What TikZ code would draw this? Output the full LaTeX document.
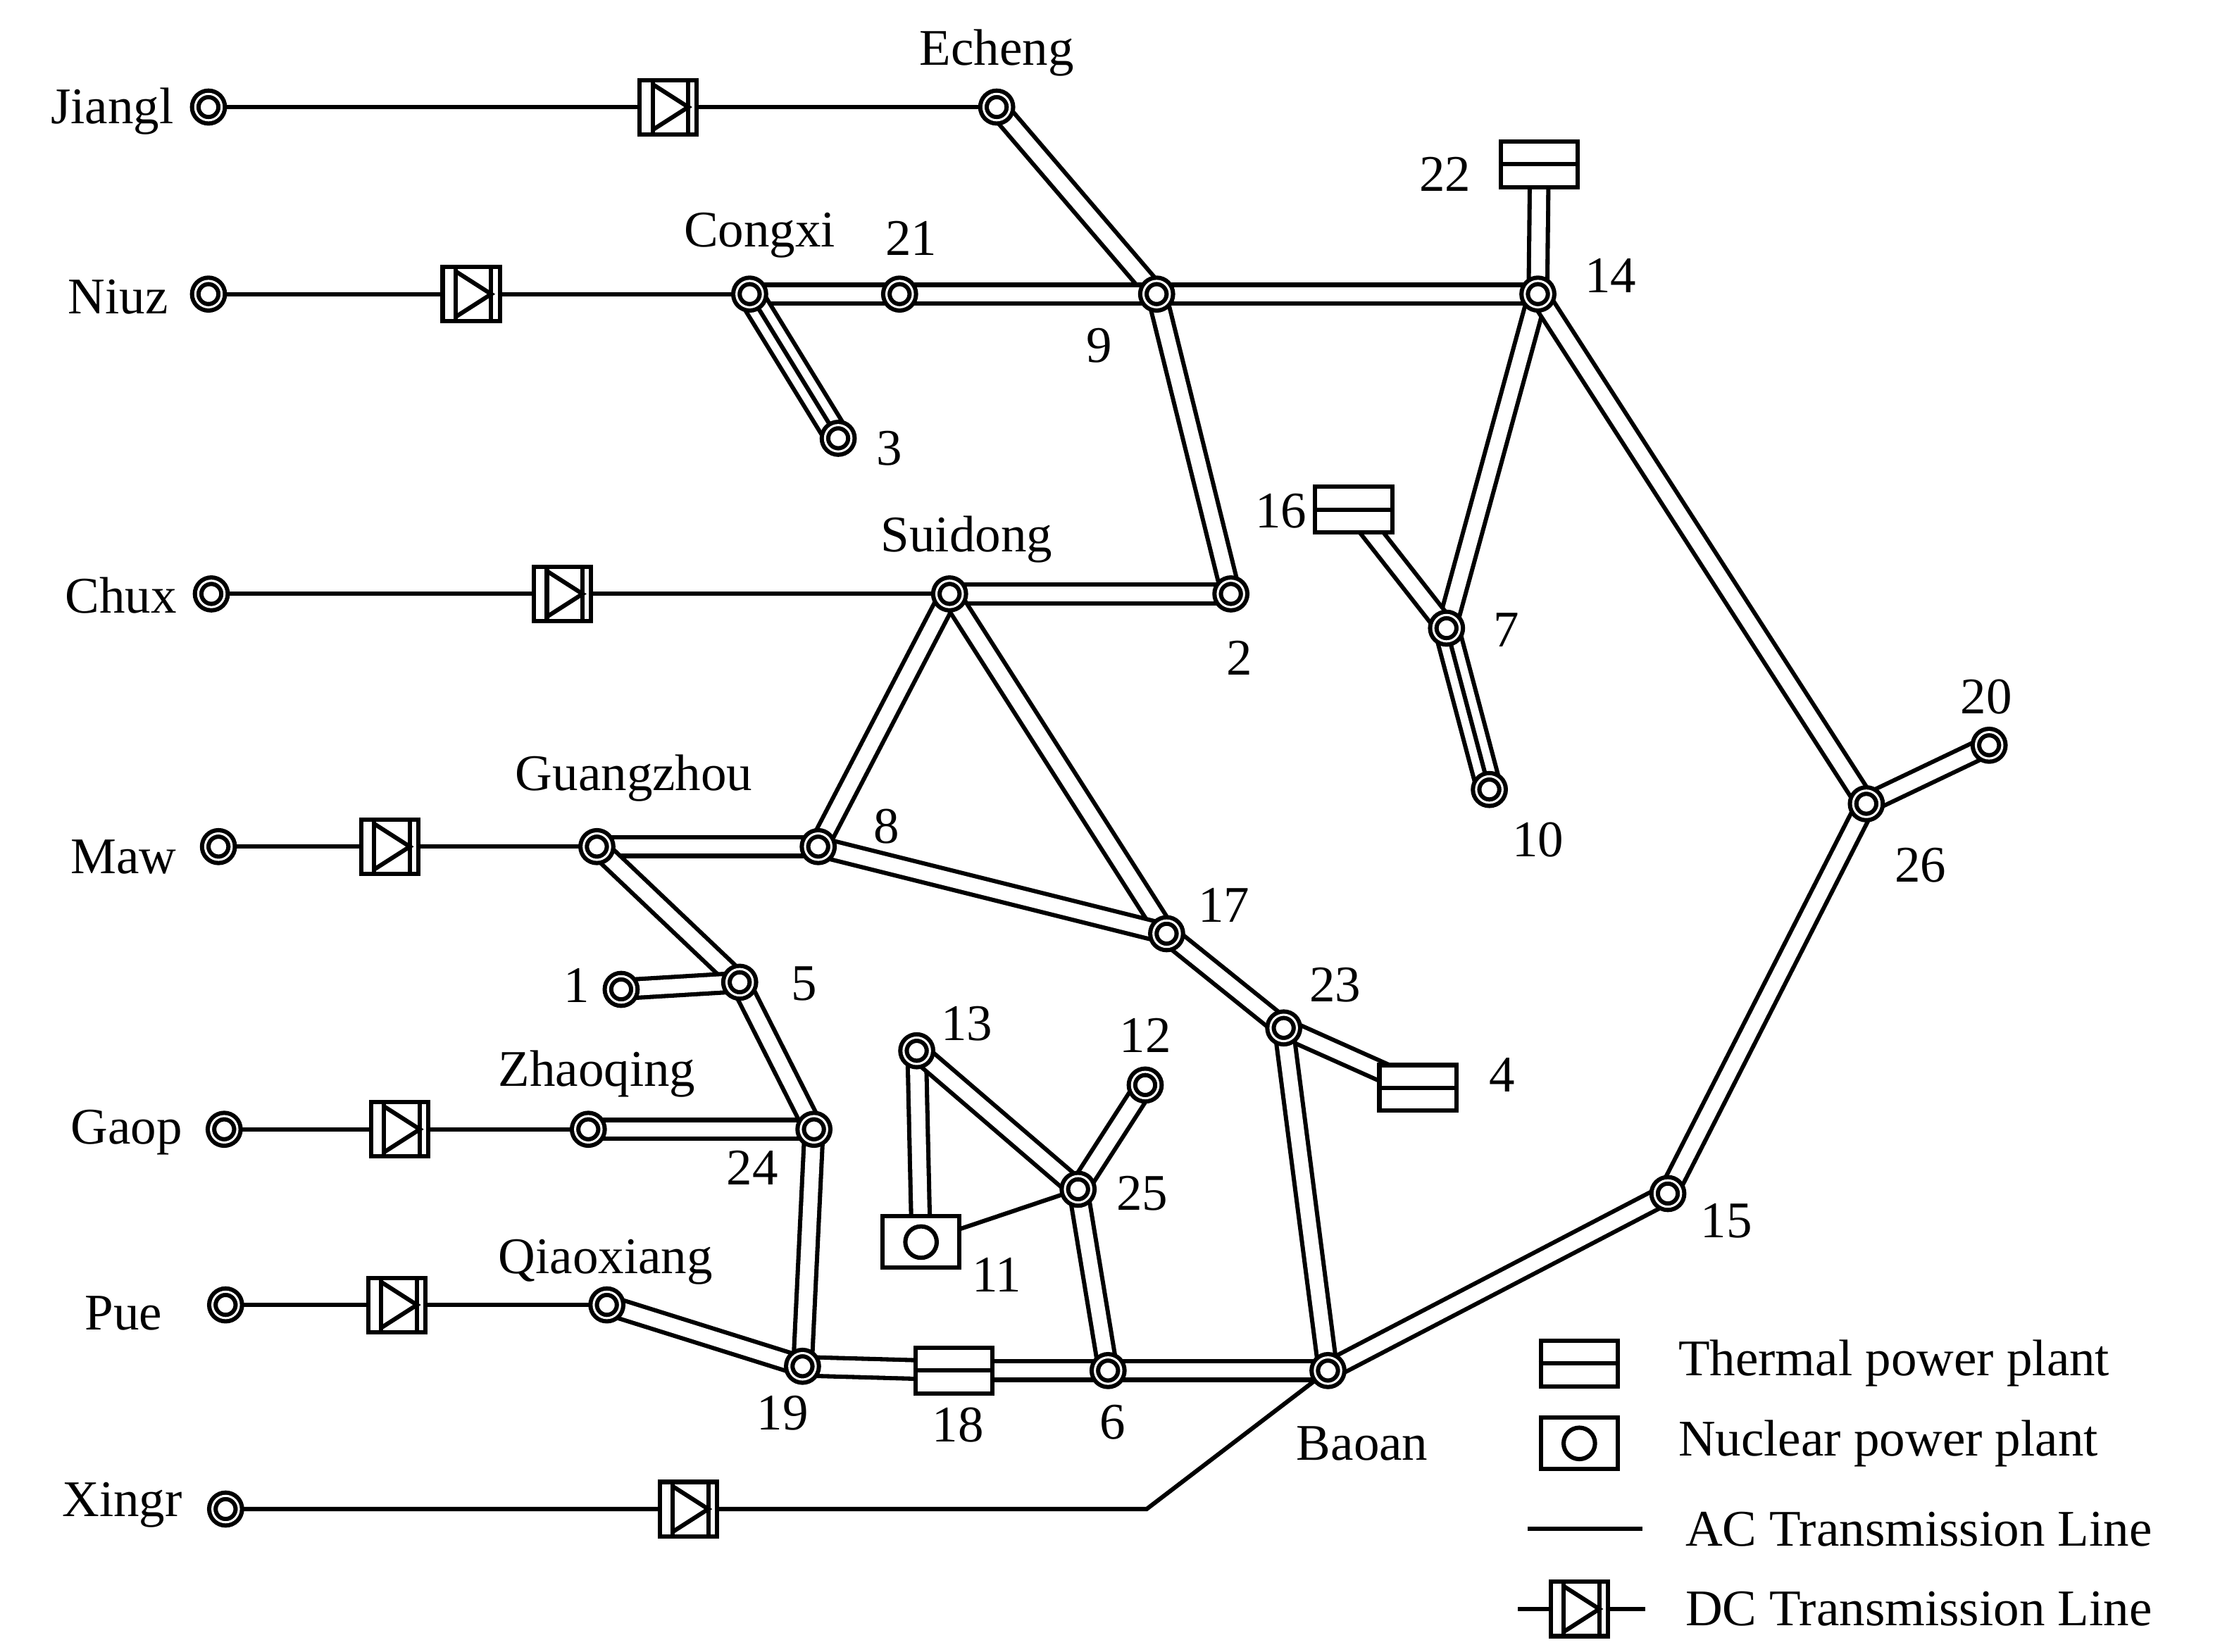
\documentclass[tikz,border=0pt]{standalone}
\usepackage{fontspec}
\setmainfont{Liberation Serif}
\usetikzlibrary{backgrounds}
\begin{document}
\begin{tikzpicture}[x=0.5pt,y=-0.5pt,
  bus/.style={circle,draw,fill=white,line width=1.5pt,double,double distance=0.75pt,minimum size=9.25pt,inner sep=0pt},
  dc/.style={rectangle,draw,fill=white,line width=1.5pt,minimum width=20pt,minimum height=19pt,inner sep=0pt},
  th/.style={rectangle,draw,fill=white,line width=1.5pt,minimum width=27pt,minimum height=16pt,inner sep=0pt},
  nu/.style={rectangle,draw,fill=white,line width=1.5pt,minimum width=27pt,minimum height=18pt,inner sep=0pt},
  ac/.style={line width=1.5pt},
  dl/.style={line width=1.5pt,double,double distance=5pt},
  tl/.style={line width=1.5pt,double,double distance=7pt,postaction={draw,line width=1.5pt}},
  lb/.style={font=\fontsize{18}{20}\selectfont,inner sep=0pt}]
\useasboundingbox (0,0) rectangle (1568,1157);
% buses
\node[bus] (Jiangl) at (146,75) {};
\node[bus] (Echeng) at (698,75) {};
\node[bus] (Niuz) at (146,206) {};
\node[bus] (Congxi) at (525,206) {};
\node[bus] (b21) at (630,206) {};
\node[bus] (b9) at (810,206) {};
\node[bus] (b14) at (1077,206) {};
\node[bus] (b3) at (587,307) {};
\node[bus] (Chux) at (148,416) {};
\node[bus] (Suidong) at (665,416) {};
\node[bus] (b2) at (862,416) {};
\node[bus] (b7) at (1013,440) {};
\node[bus] (b10) at (1043,553) {};
\node[bus] (b20) at (1393,522) {};
\node[bus] (b26) at (1307,563) {};
\node[bus] (Maw) at (153,593) {};
\node[bus] (Guangzhou) at (418,593) {};
\node[bus] (b8) at (573,593) {};
\node[bus] (b17) at (817,654) {};
\node[bus] (b23) at (899,720) {};
\node[bus] (b1) at (435,693) {};
\node[bus] (b5) at (518,688) {};
\node[bus] (b13) at (642,736) {};
\node[bus] (b12) at (802,760) {};
\node[bus] (b25) at (755,833) {};
\node[bus] (Gaop) at (157,791) {};
\node[bus] (Zhaoqing) at (412,791) {};
\node[bus] (b24) at (570,791) {};
\node[bus] (b15) at (1168,836) {};
\node[bus] (Pue) at (158,914) {};
\node[bus] (Qiaoxiang) at (425,914) {};
\node[bus] (b19) at (562,957) {};
\node[bus] (b6) at (776,960) {};
\node[bus] (Baoan) at (930,960) {};
\node[bus] (Xingr) at (158,1057) {};
\coordinate (bend) at (803,1057);
% plants
\node[th] (g22) at (1078,115) {};
\node[th] (g16) at (948,357) {};
\node[th] (g4) at (993,762) {};
\node[th] (g18) at (668,960) {};
\node[nu] (n11) at (645,870) {};
% DC converters
\node[dc] (dA) at (468,75) {};
\node[dc] (dB) at (330,206) {};
\node[dc] (dC) at (394,416) {};
\node[dc] (dD) at (273,593) {};
\node[dc] (dE) at (280,791) {};
\node[dc] (dF) at (278,914) {};
\node[dc] (dG) at (482,1057) {};
% legend
\node[th] (lgT) at (1106,955) {};
\node[nu] (lgN) at (1106,1011) {};
\coordinate (lgA1) at (1070,1071); \coordinate (lgA2) at (1150,1071);
\coordinate (lgD1) at (1063,1127); \coordinate (lgD2) at (1152,1127);
\node[dc] (lgD) at (1106,1127) {};
\begin{pgfonlayer}{background}
\draw[ac] (Jiangl.center) -- (dA.center) -- (Echeng.center);
\draw[ac] (Niuz.center) -- (dB.center) -- (Congxi.center);
\draw[ac] (Chux.center) -- (dC.center) -- (Suidong.center);
\draw[ac] (Maw.center) -- (dD.center) -- (Guangzhou.center);
\draw[ac] (Gaop.center) -- (dE.center) -- (Zhaoqing.center);
\draw[ac] (Pue.center) -- (dF.center) -- (Qiaoxiang.center);
\draw[ac] (Xingr.center) -- (dG.center) -- (bend) -- (Baoan.center);
\draw[ac] (n11.center) -- (b25.center);
\draw[ac] (lgA1) -- (lgA2);
\draw[ac] (lgD1) -- (lgD.center) -- (lgD2);
\foreach \a/\b in {Echeng/b9,Congxi/b21,b21/b9,b9/b14,b14/g22,b9/b2,Suidong/b2,b14/b7,g16/b7,b14/b26,b26/b20,b26/b15,b15/Baoan,Suidong/b8,Suidong/b17,Guangzhou/b8,b8/b17,b17/b23,b23/g4,b23/Baoan,Guangzhou/b5,b1/b5,b5/b24,Zhaoqing/b24,b24/b19,Qiaoxiang/b19,b19/g18,g18/b6,b6/Baoan,b13/n11,b13/b25,b25/b12,b25/b6}
  \draw[dl] (\a.center) -- (\b.center);
\draw[tl] (Congxi.center) -- (b3.center);
\draw[tl] (b7.center) -- (b10.center);
\end{pgfonlayer}
% symbol details
\foreach \n in {dA,dB,dC,dD,dE,dF,dG,lgD}{
  \begin{scope}[shift={(\n.center)},line width=1.5pt]
    \draw (-11,-19) -- (-11,19);
    \draw (14,-19) -- (14,19);
    \draw (-11,-16) -- (14,0) -- (-11,16);
  \end{scope}}
\foreach \n in {g22,g16,g4,g18,lgT}{
  \draw[line width=1.5pt] (\n.west) -- (\n.east);}
\foreach \n in {n11,lgN}{
  \draw[line width=1.5pt] (\n.center) circle[radius=11];}
% labels
\node[lb,anchor=east] at (122,78) {Jiangl};
\node[lb] at (698,37) {Echeng};
\node[lb,anchor=east] at (118,208) {Niuz};
\node[lb] at (532,165) {Congxi};
\node[lb] at (638,167) {21};
\node[lb] at (770,242) {9};
\node[lb] at (1128,193) {14};
\node[lb] at (1012,122) {22};
\node[lb] at (623,314) {3};
\node[lb,anchor=east] at (124,417) {Chux};
\node[lb] at (677,378) {Suidong};
\node[lb] at (868,461) {2};
\node[lb] at (897,358) {16};
\node[lb] at (1055,441) {7};
\node[lb] at (1077,588) {10};
\node[lb] at (1391,488) {20};
\node[lb] at (1345,606) {26};
\node[lb,anchor=east] at (124,600) {Maw};
\node[lb] at (444,545) {Guangzhou};
\node[lb] at (621,579) {8};
\node[lb] at (857,634) {17};
\node[lb] at (935,690) {23};
\node[lb] at (1052,753) {4};
\node[lb] at (404,690) {1};
\node[lb] at (563,689) {5};
\node[lb] at (677,717) {13};
\node[lb] at (802,725) {12};
\node[lb] at (800,836) {25};
\node[lb] at (698,893) {11};
\node[lb,anchor=east] at (128,793) {Gaop};
\node[lb] at (418,752) {Zhaoqing};
\node[lb] at (527,818) {24};
\node[lb] at (1209,855) {15};
\node[lb,anchor=east] at (114,920) {Pue};
\node[lb] at (424,884) {Qiaoxiang};
\node[lb] at (548,990) {19};
\node[lb] at (671,998) {18};
\node[lb] at (779,996) {6};
\node[lb] at (954,1011) {Baoan};
\node[lb,anchor=east] at (128,1054) {Xingr};
\node[lb,anchor=west] at (1175,955) {Thermal power plant};
\node[lb,anchor=west] at (1175,1011) {Nuclear power plant};
\node[lb,anchor=west] at (1180,1071) {AC Transmission Line};
\node[lb,anchor=west] at (1180,1127) {DC Transmission Line};
\end{tikzpicture}
\end{document}
